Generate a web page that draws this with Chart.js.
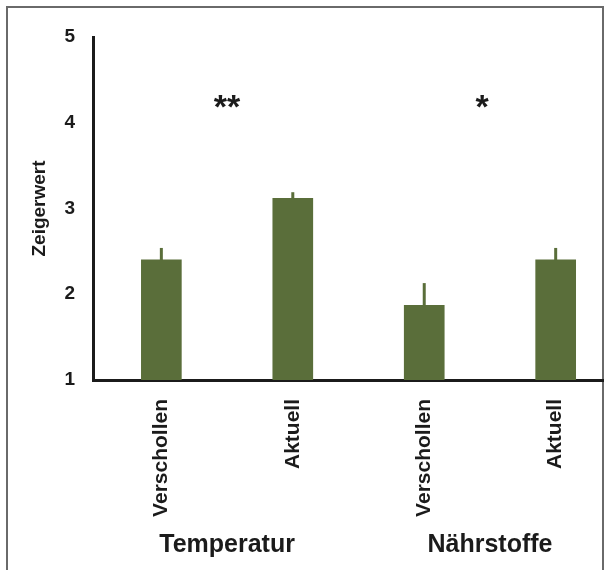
<!DOCTYPE html>
<html>
<head>
<meta charset="utf-8">
<script src="https://cdn.jsdelivr.net/npm/chart.js@4/dist/chart.umd.min.js"></script>
<style>
  html, body { margin: 0; padding: 0; background: #fff; overflow: hidden; }
  #c { display: block; }
</style>
</head>
<body>
<canvas id="c" width="606" height="570"></canvas>
<script>
// ---- data ----
const categories = ['Verschollen', 'Aktuell', 'Verschollen', 'Aktuell'];
const zeigerwert = [2.40, 3.12, 1.87, 2.40];
const fehler = [0.14, 0.07, 0.26, 0.14];
const groupLabels = ['Temperatur', 'Nährstoffe'];
const groupCenters = [0.5, 2.5];
const sigLabels = ['**', '*'];
const sigX = [0.5, 2.44];
const sigY = [4.28, 4.28];
const yTicks = [1, 2, 3, 4, 5];

const GREEN = '#5a6e3a';
const INK = '#1b1b1b';
const FONT = '"Liberation Sans", Arial, sans-serif';

const extras = {
  id: 'extras',
  beforeDraw(chart) {
    const ctx = chart.ctx;
    ctx.save();
    ctx.strokeStyle = '#6a6a6a';
    ctx.lineWidth = 2;
    ctx.strokeRect(7, 7, 596, 620);
    ctx.restore();
  },
  afterDatasetsDraw(chart) {
    const ctx = chart.ctx;
    const ys = chart.scales.y;
    const meta = chart.getDatasetMeta(0);
    ctx.save();
    ctx.strokeStyle = GREEN;
    ctx.lineWidth = 3;
    meta.data.forEach((bar, i) => {
      const top = ys.getPixelForValue(zeigerwert[i] + fehler[i]);
      ctx.beginPath();
      ctx.moveTo(bar.x, bar.y + 1);
      ctx.lineTo(bar.x, top);
      ctx.stroke();
    });
    ctx.restore();
  },
  afterDraw(chart) {
    const ctx = chart.ctx;
    const xs = chart.scales.x, ys = chart.scales.y;
    ctx.save();
    ctx.fillStyle = INK;
    ctx.textAlign = 'center';
    ctx.textBaseline = 'middle';
    ctx.font = 'bold 25px ' + FONT;
    groupLabels.forEach((g, i) => {
      ctx.fillText(g, xs.getPixelForValue(groupCenters[i]), 545);
    });
    const starSize = 34;
    ctx.font = 'bold ' + starSize + 'px ' + FONT;
    ctx.textBaseline = 'alphabetic';
    sigLabels.forEach((s, i) => {
      ctx.fillText(s, xs.getPixelForValue(sigX[i]), ys.getPixelForValue(sigY[i]) + 0.57 * starSize);
    });
    ctx.restore();
  }
};

new Chart(document.getElementById('c'), {
  type: 'bar',
  data: {
    datasets: [{
      data: categories.map((c, i) => ({ x: i, y: zeigerwert[i] })),
      backgroundColor: GREEN,
      borderWidth: 0,
      barThickness: 40
    }]
  },
  options: {
    responsive: false,
    animation: false,
    events: [],
    layout: { padding: { left: 0, right: 3, top: 37, bottom: 0 } },
    plugins: { legend: { display: false }, tooltip: { enabled: false }, title: { display: false } },
    scales: {
      x: {
        type: 'linear',
        min: -0.52,
        max: 3.36,
        offset: false,
        grid: { display: true, drawOnChartArea: false, drawTicks: false, offset: false, color: 'transparent' },
        border: { display: true, color: INK, width: 3 },
        afterBuildTicks: s => { s.ticks = categories.map((c, i) => ({ value: i })); },
        afterFit: s => { s.height = 190; },
        ticks: {
          autoSkip: false,
          minRotation: 90,
          maxRotation: 90,
          padding: 19,
          color: INK,
          font: { family: FONT, size: 21, weight: 'bold' },
          callback: v => categories[v]
        }
      },
      y: {
        min: 1,
        max: 5,
        afterBuildTicks: s => { s.ticks = yTicks.map(v => ({ value: v })); },
        afterFit: s => { s.width = 93; },
        grid: { display: true, drawOnChartArea: false, drawTicks: false, color: 'transparent' },
        border: { display: true, color: INK, width: 3 },
        ticks: {
          padding: 18,
          color: INK,
          font: { family: FONT, size: 19, weight: 'bold' }
        },
        title: {
          display: true,
          text: 'Zeigerwert',
          color: INK,
          font: { family: FONT, size: 19, weight: 'bold' },
          padding: { top: 28, bottom: 0 }
        }
      }
    }
  },
  plugins: [extras]
});
</script>
</body>
</html>
